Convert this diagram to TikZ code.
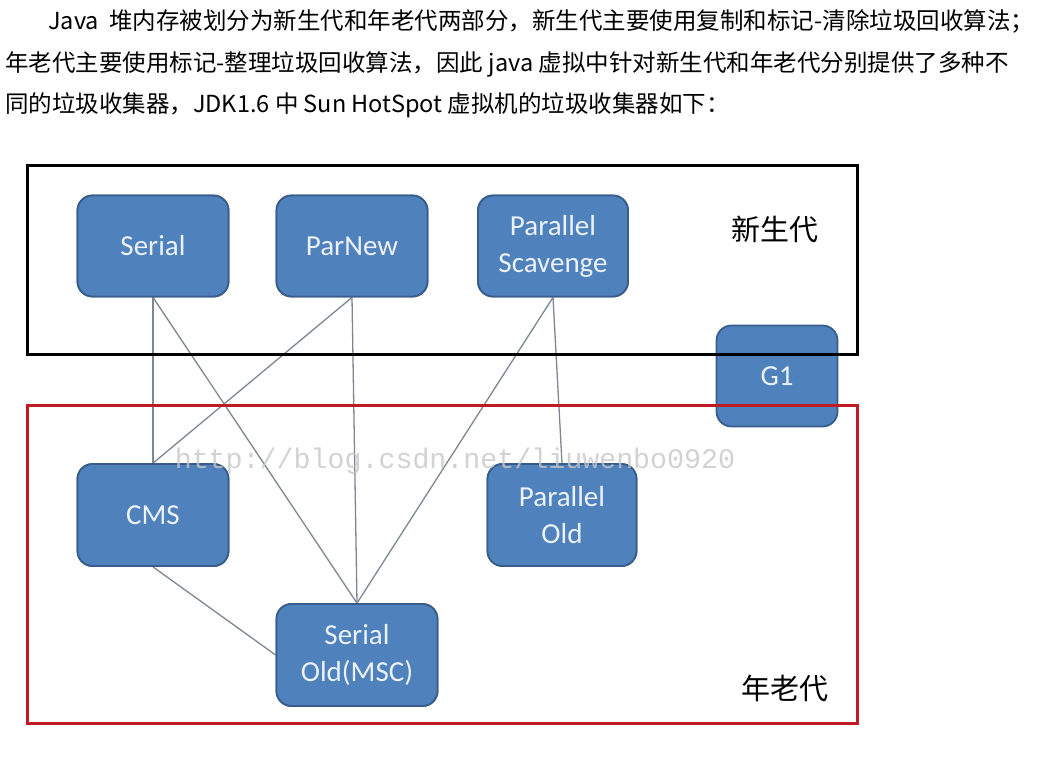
\documentclass[tikz,border=0pt]{standalone}
\usepackage{fontspec}
\newfontfamily\cjk{Noto Sans CJK SC}
\newfontfamily\carl{Carlito}
\newfontfamily\wmfont{Liberation Mono}
\definecolor{nodefill}{RGB}{79,129,189}
\definecolor{nodeedge}{RGB}{56,93,138}
\definecolor{nodetext}{RGB}{236,242,250}
\definecolor{linkgray}{RGB}{125,135,148}
\definecolor{oldred}{RGB}{190,28,34}
\tikzset{
  gc/.style={rounded corners=15pt, fill=nodefill, draw=nodeedge, line width=1.8pt,
    text=nodetext, font=\carl\fontsize{29}{37}\selectfont, align=center, inner sep=0pt},
  link/.style={draw=linkgray, line width=1.3pt},
  para/.style={anchor=base west, inner sep=0pt, font=\cjk\fontsize{23.5}{30}\selectfont},
  genlabel/.style={inner sep=0pt, font=\cjk\fontsize{29}{34}\selectfont}
}
\begin{document}
\begin{tikzpicture}[x=1pt,y=-1pt]
\useasboundingbox[fill=white] (0,0) rectangle (1055,756);
% paragraph
\node[para] (l1) at (48,29) {Java\ \ 堆内存被划分为新生代和年老代两部分，新生代主要使用复制和标记-清除垃圾回收算法；};
\node[para] (l2) at (5,71) {年老代主要使用标记-整理垃圾回收算法，因此 java 虚拟中针对新生代和年老代分别提供了多种不};
\node[para] (l3) at (5,112) {同的垃圾收集器，JDK1.6 中 Sun HotSpot 虚拟机的垃圾收集器如下：};
% nodes
\node[gc, minimum width=151pt, minimum height=101pt] (serial) at (153,246) {Serial};
\node[gc, minimum width=151pt, minimum height=101pt] (parnew) at (352,246) {ParNew};
\node[gc, minimum width=150pt, minimum height=101pt] (ps) at (553,246) {Parallel\\Scavenge};
\node[gc, minimum width=121pt, minimum height=101pt] (g1) at (777,376) {G1};
\node[gc, minimum width=151pt, minimum height=102pt] (cms) at (153,515) {CMS};
\node[gc, minimum width=149pt, minimum height=102pt] (po) at (562,515) {Parallel\\Old};
\node[gc, minimum width=161pt, minimum height=102pt] (so) at (357,655) {Serial\\Old(MSC)};
% connectors
\path[link] (serial.south) -- (cms.north);
\path[link] (serial.south) -- (so.north);
\path[link] (parnew.south) -- (cms.north);
\path[link] (parnew.south) -- (so.north);
\path[link] (ps.south) -- (so.north);
\path[link] (ps.south) -- (po.north);
\path[link] (cms.south) -- (so.west);
% redraw nodes on top of connectors
\node[gc, minimum width=151pt, minimum height=101pt] at (serial) {Serial};
\node[gc, minimum width=151pt, minimum height=101pt] at (parnew) {ParNew};
\node[gc, minimum width=150pt, minimum height=101pt] at (ps) {Parallel\\Scavenge};
\node[gc, minimum width=151pt, minimum height=102pt] at (cms) {CMS};
\node[gc, minimum width=149pt, minimum height=102pt] at (po) {Parallel\\Old};
\node[gc, minimum width=161pt, minimum height=102pt] at (so) {Serial\\Old(MSC)};
% generation frames
\node[draw=black, line width=3pt, minimum width=830pt, minimum height=189pt, inner sep=0pt] (young) at (442,259.5) {};
\node[draw=oldred, line width=3pt, minimum width=830pt, minimum height=318pt, inner sep=0pt] (old) at (442,564) {};
\node[genlabel] (ylab) at (775,229) {新生代};
\node[genlabel] (olab) at (785,688) {年老代};
% watermark
\node[inner sep=0pt, text=black!22, opacity=0.8, font=\wmfont\fontsize{28.3}{30}\selectfont] (wm) at (455,461) {http://blog.csdn.net/liuwenbo0920};
\end{tikzpicture}
\end{document}
